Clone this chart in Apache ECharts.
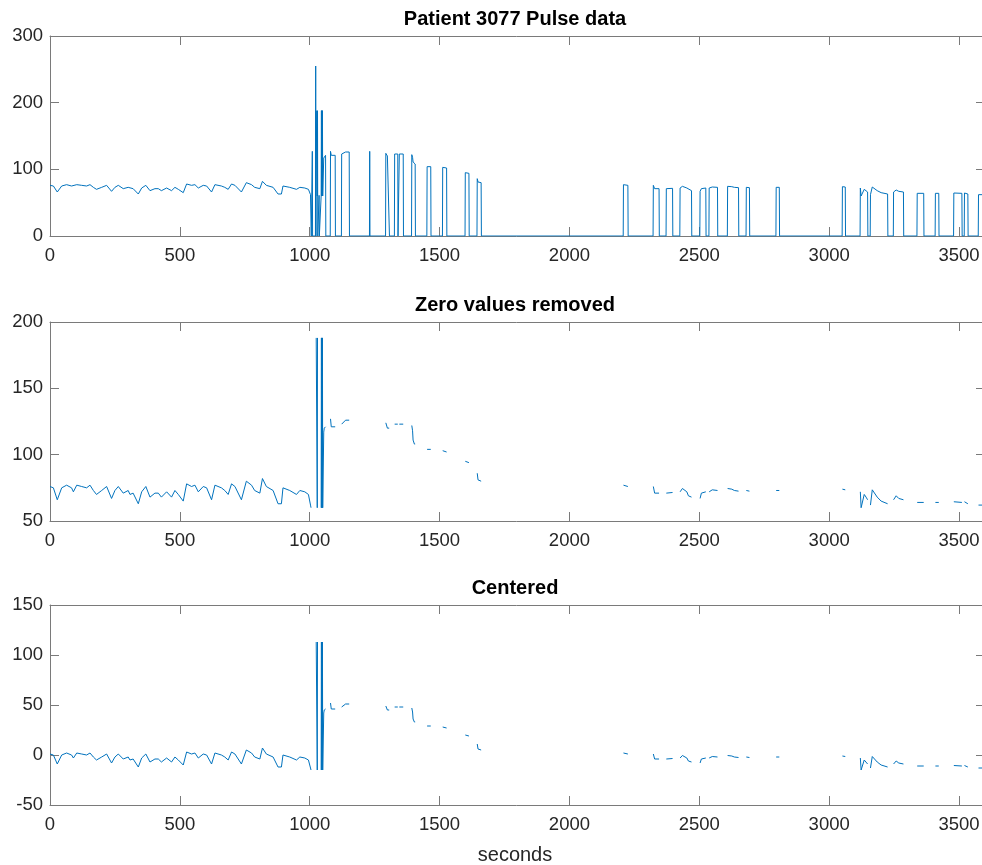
<!DOCTYPE html>
<html>
<head>
<meta charset="utf-8">
<script src="https://cdn.jsdelivr.net/npm/echarts@6/dist/echarts.min.js"></script>
<style>
html,body{margin:0;padding:0;background:#fff;}
#chart{width:982px;height:865px;}
</style>
</head>
<body>
<div id="chart"></div>
<script>
// ---------- DATA ----------
const titles = ['Patient 3077 Pulse data', 'Zero values removed', 'Centered'];
const xLabel = 'seconds';
const xTicks = [0, 500, 1000, 1500, 2000, 2500, 3000, 3500];
const xRange = [0, 3600];
const yRanges = [[0, 300, 100], [50, 200, 50], [-50, 150, 50]];
const meanPulse = 75; // offset subtracted for the "Centered" panel

// raw pulse [seconds, bpm], steady part
const pulseBaseline = [
  [0,76],[13,75],[28,66],[45,75],[64,77],[83,75],[90,72],[103,77],[122,76],[141,75],
  [154,77],[167,73],[179,70],[199,73],[218,76],[237,67],[250,73],[263,76],[282,71],[301,73],
  [308,70],[320,71],[340,63],[353,72],[369,76],[385,68],[404,71],[417,71],[429,68],[449,72],
  [468,68],[481,73],[494,70],[513,65],[526,78],[545,76],[558,77],[571,72],[590,76],[603,75],
  [622,66],[635,77],[660,75],[673,73],[686,70],[699,78],[712,76],[737,66],[756,80],[776,77],
  [788,73],[808,71],[818,82],[833,76],[859,73],[878,63],[891,63],[897,75],[923,73],[949,70],
  [962,73],[981,72],[995,70],[1003,62],[1005,60]
];
// raw pulse, artefact burst (zeros = sensor dropouts)
const pulseArtifacts = [
  [1006,0],[1009,0],[1010,127],[1011,0],[1022,0],[1023,255],[1024,0],[1025,188],[1028,188],
  [1029,60],[1030,188],[1031,0],[1035,0],[1036,61],[1037,0],[1043,0],[1044,60],[1045,188],
  [1046,60],[1047,188],[1048,60],[1049,188],[1050,60],[1051,60],[1054,117],[1056,120],
  [1061,121],[1062,0]
];
// raw pulse, intermittent readings
const pulseLater = [
  [1079,0],[1080,127],[1083,121],[1098,121],[1099,0],
  [1122,0],[1123,123],[1130,123],[1138,126],[1152,126],[1153,0],
  [1230,0],[1231,127],[1232,0],
  [1292,0],[1293,124],[1296,123],[1299,120],[1306,120],[1307,0],
  [1326,0],[1327,123],[1339,123],[1340,0],[1344,0],[1345,123],[1360,123],[1361,0],
  [1392,0],[1393,122],[1396,118],[1398,111],[1403,108],[1406,108],[1407,0],
  [1451,0],[1452,104],[1466,104],[1467,0],
  [1511,0],[1512,103],[1518,102],[1527,102],[1528,0],
  [1598,0],[1599,95],[1606,94],[1613,94],[1614,0],
  [1644,0],[1645,86],[1648,81],[1660,80],[1661,0],
  [2207,0],[2208,77],[2225,76],[2226,0],
  [2322,0],[2323,76],[2328,71],[2345,71],[2346,0],
  [2372,0],[2373,71],[2397,71.5],[2398,0],
  [2425,0],[2426,72],[2435,74.5],[2452,72],[2458,69],[2470,68],[2471,0],
  [2502,0],[2503,67],[2508,71],[2515,72],[2525,72],[2526,0],
  [2537,0],[2538,72],[2550,73.5],[2570,73],[2571,0],
  [2608,0],[2609,74.5],[2625,74],[2635,73],[2651,72.5],[2652,0],
  [2680,0],[2681,73],[2693,72.5],[2694,0],
  [2795,0],[2796,73],[2808,73],[2809,0],
  [3050,0],[3051,74],[3062,73.5],[3063,0],
  [3119,0],[3120,72],[3123,60],[3128,59],[3135,70],[3142,68],[3148,66],[3149,0],
  [3158,0],[3159,62],[3166,73.5],[3172,73],[3185,68],[3200,65],[3225,63],[3226,0],
  [3247,0],[3248,66],[3258,69],[3268,67],[3286,66],[3287,0],
  [3338,0],[3339,64],[3364,64],[3365,0],
  [3408,0],[3409,64],[3422,64],[3423,0],
  [3479,0],[3480,64.5],[3511,64],[3512,0],
  [3520,0],[3521,64.5],[3534,63],[3535,0],
  [3574,0],[3575,62],[3600,62]
];

// ---------- BUILD ----------
const raw = pulseBaseline.concat(pulseArtifacts, pulseLater);
const noZeros = raw.map(p => [p[0], p[1] === 0 ? '-' : p[1]]);
const centered = raw.map(p => [p[0], p[1] === 0 ? '-' : p[1] - meanPulse]);
const panels = [raw, noZeros, centered];

const FONT = "'Liberation Sans', Arial, Helvetica, sans-serif";
const TXT = '#262626';
const AX = '#7a7a7a';
const LINE = '#0072BD';
const gridTops = [36, 322, 605];
const gridHeights = [200, 199, 200];

const grids = [], xAxes = [], yAxes = [], series = [], graphics = [];
const xTickSet = new Set(xTicks);

panels.forEach((data, i) => {
  grids.push({left: 50, width: 935, top: gridTops[i], height: gridHeights[i],
    containLabel: false, outerBoundsMode: 'none'});
  const axLine = {show: true, onZero: false, lineStyle: {color: AX, width: 1}};
  const tick = {show: true, inside: true, length: 9, lineStyle: {color: AX, width: 1}};
  const xBase = {type: 'value', gridIndex: i, min: xRange[0], max: xRange[1], interval: 500,
    axisLine: axLine, axisTick: tick, splitLine: {show: false}};
  xAxes.push(Object.assign({}, xBase, {position: 'bottom',
    axisLabel: {show: true, margin: 10, color: TXT, fontSize: 18.5, fontFamily: FONT,
      formatter: v => xTickSet.has(v) ? String(v) : ''}}));
  xAxes.push(Object.assign({}, xBase, {position: 'top', axisLabel: {show: false}}));
  const yr = yRanges[i];
  const yBase = {type: 'value', gridIndex: i, min: yr[0], max: yr[1], interval: yr[2],
    axisLine: axLine, axisTick: tick, splitLine: {show: false}};
  yAxes.push(Object.assign({}, yBase, {position: 'left',
    axisLabel: {show: true, margin: 7, color: TXT, fontSize: 18.5, fontFamily: FONT}}));
  yAxes.push(Object.assign({}, yBase, {position: 'right', axisLabel: {show: false}}));
  series.push({type: 'line', xAxisIndex: 2 * i, yAxisIndex: 2 * i, data: data,
    showSymbol: false, symbol: 'none', connectNulls: false, clip: true,
    lineStyle: {color: LINE, width: 1}, silent: true, animation: false});
  graphics.push({type: 'text', x: 515, y: gridTops[i] - 16.5,
    style: {text: titles[i], fill: '#000', font: 'bold 20px ' + FONT,
      textAlign: 'center', textVerticalAlign: 'middle'}});
});
graphics.push({type: 'text', x: 515, y: 855,
  style: {text: xLabel, fill: TXT, font: '20px ' + FONT, textAlign: 'center', textVerticalAlign: 'middle'}});

const chart = echarts.init(document.getElementById('chart'), null, {renderer: 'canvas'});
chart.setOption({
  animation: false,
  backgroundColor: '#fff',
  grid: grids,
  xAxis: xAxes,
  yAxis: yAxes,
  series: series,
  graphic: graphics
});
</script>
</body>
</html>
